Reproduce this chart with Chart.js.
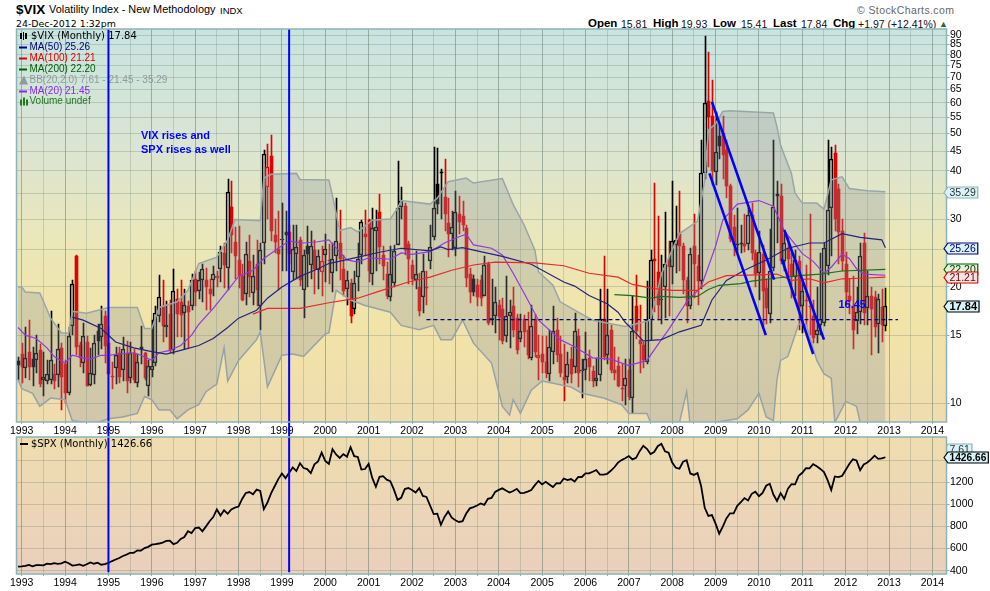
<!DOCTYPE html>
<html lang="en">

<head>
    <meta charset="UTF-8">
    <title>$VIX Volatility Index</title>
    <script src="https://cdn.jsdelivr.net/npm/chart.js"></script>
    <style>
        body {
            margin: 0;
            background: #fff;
            width: 990px;
            height: 591px;
            overflow: hidden;
            position: relative;
            font-family: "Liberation Sans", sans-serif;
            color: #000;
        }

        canvas {
            position: absolute;
            left: 0;
            top: 0;
        }

        .t {
            position: absolute;
            white-space: nowrap;
            line-height: 1;
        }

        .b {
            font-weight: bold;
            font-size: 11.5px;
            top: 18px;
        }

        .v {
            font-size: 10.5px;
            top: 19px;
            color: #111;
        }
    </style>
</head>

<body>
    <div class="t" style="left:16px;top:3px;font-size:13.5px;font-weight:bold">$VIX</div>
    <div class="t" style="left:49px;top:4px;font-size:10.9px">Volatility Index - New Methodology</div>
    <div class="t" style="left:220px;top:6px;font-size:9.5px">INDX</div>
    <div class="t" style="left:16px;top:19px;font-size:9.4px;font-family:'DejaVu Sans'">24-Dec-2012 1:32pm</div>
    <div class="t" style="left:857px;top:5px;font-size:10.5px;color:#666;letter-spacing:.4px">&copy; StockCharts.com</div>
    <div class="t b" style="left:588px">Open</div>
    <div class="t v" style="left:621px">15.81</div>
    <div class="t b" style="left:653px">High</div>
    <div class="t v" style="left:681px">19.93</div>
    <div class="t b" style="left:713px">Low</div>
    <div class="t v" style="left:741px">15.41</div>
    <div class="t b" style="left:773px">Last</div>
    <div class="t v" style="left:801px">17.84</div>
    <div class="t b" style="left:833px">Chg</div>
    <div class="t v" style="left:858px">+1.97 (+12.41%)</div>
    <div class="t" style="left:939px;top:20px;font-size:9px;color:#2a6b2a">&#9650;</div>

    <canvas id="vixChart" width="990" height="591"></canvas>
    <canvas id="spxChart" width="990" height="591"></canvas>

    <script>
        // months are counted from Jan 1993 = 0, first bar is Dec 1992
        const firstMonth = -1;
        const yearLabelStart = 1993;

        const vixOpen = [12.85,
            13.4, 12.35, 13.6, 13.0, 12.9, 13.7, 11.5, 11.4, 11.5, 11.9, 11.8, 13.9,
            12.6, 10.6, 15.8, 24, 14.1, 12.7, 14.4, 11.15, 11.85, 15.4, 14.85, 16.8,
            14.3, 11.75, 12.3, 13.5, 12.2, 13.5, 11.6, 13.5, 11.3, 14, 13.45, 11.1,
            12.2, 12.7, 16.8, 17.9, 15.7, 17, 13.7, 18.6, 18.3, 17.1, 17.9, 17.8,
            21, 19.5, 20.9, 20.8, 19.8, 20.9, 21.1, 22.2, 24.5, 22.4, 32.3, 26.2,
            23.5, 21.4, 19.2, 23.4, 19.3, 22.9, 17.9, 26, 36.4, 43.6, 27.2, 25.1,
            26.4, 27.7, 27.7, 21.9, 24.4, 26.5, 19.6, 25.5, 22.8, 24.9, 22.1, 21.9,
            24.2, 23.4, 21.7, 24, 26, 22.3, 19.8, 20.5, 17.5, 21.2, 24.2, 27.5,
            29.9, 21.6, 28, 31.2, 24.2, 21.6, 18.8, 20.5, 25.7, 32.3, 32.4, 25.8,
            22.8, 20.9, 20, 18.8, 20, 23.4, 27, 37, 39.7, 34.3, 29.3, 27.5,
            25.3, 31, 30.6, 28.4, 21.6, 21, 20.2, 20.8, 19, 23, 16.4, 16.8,
            18, 17.5, 14.9, 16.8, 17.8, 16.6, 14.7, 16.5, 15.5, 13.1, 16.5, 13.1,
            13.4, 12.8, 11.9, 13.6, 15.5, 13.4, 11.7, 11.7, 13, 12.4, 14.9, 12.1,
            12.2, 13.1, 12.1, 11.4, 11.8, 16.5, 13.3, 15.5, 12.2, 12.5, 10.95, 11.1,
            12.2, 10.3, 17.9, 14.6, 14.1, 12.8, 16.5, 23.7, 21.9, 18.5, 20, 23.5,
            22.5, 25.7, 27.5, 25.6, 20.8, 17.9, 25.5, 22.6, 20.7, 39.6, 60.7, 55.5,
            39.7, 49.3, 50, 45.4, 36.6, 28.6, 25.9, 26, 25.9, 25.9, 30.7, 24.5,
            21.7, 24.3, 19.9, 17, 22.4, 34.9, 34.4, 23.4, 25.2, 23, 21.2, 23.3,
            17.8, 18.5, 17.8, 16.8, 15, 15.9, 16.1, 22.6, 32, 44.4, 36, 27.9,
            23, 19, 17.9, 16.3, 17.2, 26, 17.6, 19, 18.8, 16, 17.7, 15.81];
        const vixHigh = [13.2,
            14.3, 15.7, 16.4, 14, 15, 14.2, 13.6, 12.9, 17.3, 12.6, 16, 14.3,
            12.9, 15.7, 20.8, 24, 14.4, 16.1, 14.9, 13.9, 15, 16, 17.8, 17.3,
            15.7, 12.8, 14, 14, 14.8, 14.5, 14.4, 13.8, 13.4, 15.8, 13.6, 12.9,
            16.4, 17.8, 21.5, 20.9, 18.4, 18.5, 22.2, 19.8, 20.9, 19.8, 18.4, 21.6,
            22, 21.9, 22.9, 22.4, 21, 22.7, 22, 25.6, 26, 38.2, 37.6, 28.6,
            28.8, 23, 26.2, 27.2, 24.2, 26.5, 26, 45.3, 47, 49.5, 30, 31.5,
            33, 31.5, 29, 29, 29, 27, 25, 28.7, 28, 26.4, 25, 25.5,
            27.5, 25.8, 26, 34, 31.6, 24.2, 22, 21, 22, 26, 29.9, 31.7,
            29.9, 32, 31.6, 34.8, 25.5, 23.2, 25.5, 25.7, 42.5, 36.4, 33, 26.3,
            23.5, 24.8, 21.8, 24.3, 22, 29, 46, 45.8, 40.5, 43, 34, 31.5,
            35.5, 34.5, 33.5, 29, 22.4, 21.5, 21, 21.5, 24, 23.2, 21, 20,
            18.5, 18.7, 21.3, 18.5, 20, 17, 17, 16.9, 17.2, 18, 17, 15,
            14.9, 14.9, 15.5, 17.8, 16.6, 14.9, 14.2, 13.6, 14, 17.1, 15.6, 13,
            15.3, 13.7, 12.5, 13.1, 19.7, 24.1, 19.8, 15.9, 14, 13.2, 12.6, 13,
            13, 19, 21.5, 18, 14.4, 20.7, 24.9, 37.3, 30.6, 24.2, 31.2, 26.3,
            37.7, 32.5, 35.5, 26, 21.2, 25.2, 31, 24.2, 48, 89.5, 81.5, 69,
            57, 53, 55.6, 48, 37, 30.7, 32, 29, 31, 32, 33, 25,
            28, 25.7, 21, 28.3, 48.2, 37.7, 37, 27.5, 27, 24.5, 25, 24,
            21, 22.8, 31, 18.5, 20, 24.5, 26, 48, 46, 46.8, 37, 30,
            24.7, 21, 21.4, 20, 26, 27.6, 22, 20, 19.5, 19.2, 19.7, 19.93];
        const vixLow = [11.5,
            11.3, 11.6, 11.5, 11.1, 12, 11, 10.4, 11.2, 11.2, 10.9, 11, 9.6,
            10, 10.5, 15, 13.3, 12.4, 12, 11.05, 11.05, 11.2, 13.3, 13.8, 12.7,
            11.9, 10.9, 11.2, 11.3, 11.4, 10.6, 11.3, 11.3, 11, 12.6, 11.5, 10.4,
            11.7, 12.5, 16.2, 14.4, 14.8, 13.5, 13.4, 14.8, 14.8, 13.8, 13.9, 17.4,
            17.8, 18.6, 18.3, 17.4, 17.4, 19, 20, 20.6, 19.9, 19.6, 24.5, 21,
            19.9, 18.4, 18, 18.8, 18, 17.8, 15.5, 23, 30, 26.3, 24.5, 19.6,
            22, 22, 23, 20.8, 21, 20.1, 16.6, 20, 21, 19.2, 19.8, 18.9,
            20.6, 20.4, 19.4, 22, 20.8, 19, 18, 16.1, 17, 19.5, 23, 24,
            20.6, 20.2, 22, 23, 20.8, 18.6, 18.4, 20, 25.7, 30, 24.2, 20.4,
            20.2, 19.8, 16.8, 17.1, 18, 22.2, 26.5, 31, 30, 28, 23.9, 25,
            24, 27.5, 28, 20, 18.2, 19, 17.8, 17.9, 19, 15.9, 15.9, 15.2,
            14.6, 14.2, 14.4, 13.9, 14.8, 13.4, 14.4, 14, 13, 12.9, 13.2, 11.5,
            12, 11.6, 11.4, 12.6, 12.8, 11.7, 10.1, 11.3, 11.3, 12, 11, 10.3,
            11.5, 11.4, 11, 11.1, 11.4, 12.9, 12.6, 12, 11.5, 11, 10.1, 9.9,
            10.2, 9.4, 14.7, 12, 12.3, 12.6, 14.6, 17.2, 16.4, 16, 16.6, 16.8,
            20.4, 21.7, 22, 19.2, 16.1, 17.5, 18.7, 18, 19.7, 38, 41, 36.7,
            36.8, 43, 38.1, 34, 26.2, 24, 24.5, 24.5, 24.7, 25, 23.5, 20,
            18.5, 15.8, 16, 16.1, 22, 26, 23, 22, 21.3, 18.7, 19, 15.5,
            15.2, 15.7, 15, 14.3, 14.3, 15, 15.8, 21.5, 24, 28, 23, 22,
            18, 17, 13.8, 15.1, 16, 15.9, 15.9, 13.3, 14.8, 13.5, 14.4, 15.41];
        const vixClose = [12.55,
            12.4, 13.1, 12.4, 12.4, 13.45, 11.2, 11.7, 11.9, 12.9, 11.4, 13.8, 11.7,
            10.6, 14.9, 20.4, 14, 13.05, 14.95, 11.1, 12, 14.3, 14.5, 16, 14.05,
            11.9, 11.7, 13.3, 11.7, 13.8, 11.4, 13.5, 11.5, 12.75, 13.8, 11.6, 12.5,
            12.5, 17.1, 18.8, 15.8, 15.9, 13.7, 19.5, 17, 16.9, 18, 17.2, 20.9,
            19.4, 20.9, 22.2, 20, 19.2, 21.6, 21.4, 24.6, 22.8, 35.3, 27.3, 24,
            21.3, 18.5, 24.3, 21.2, 21.3, 19.6, 24.9, 44.3, 41, 27.9, 26.1, 24.4,
            26.6, 27.3, 24.4, 25.1, 25.4, 20.8, 24.2, 24.4, 25.5, 22.2, 24.1, 23.3,
            25.1, 23.3, 23.7, 26.3, 23.6, 19.5, 20.8, 16.8, 20.5, 23.6, 29.5, 26.9,
            22, 28.4, 28.6, 25.4, 22.6, 18.9, 21.6, 24.8, 32, 33.4, 25, 23.7,
            21, 21.6, 17.3, 22, 19.9, 25.4, 32, 32.8, 39.6, 31, 27.4, 28.6,
            31.2, 29.5, 29, 21.1, 19.4, 19.4, 18.8, 18.7, 22.8, 16.1, 16.6, 18.3,
            16.7, 14.5, 16.8, 17.2, 15.5, 13.7, 15.4, 15.3, 13.3, 15.8, 13.6, 13.3,
            12.8, 12, 14, 15.4, 13.3, 12, 11.5, 12.6, 11.9, 15.4, 12, 12.2,
            13, 12.4, 11.4, 11.6, 16.5, 13.2, 15, 12.2, 12, 11.1, 10.9, 11.6,
            10.35, 15.4, 15.35, 14.2, 12.9, 16.4, 23.5, 23.4, 18, 18.6, 22.9, 22.5,
            26.3, 26.5, 25.6, 20.8, 17.8, 24.4, 22.9, 20.7, 39.4, 59.9, 55.2, 40,
            44.8, 46.3, 44.1, 36.5, 26.7, 25.7, 25.7, 25.9, 25.6, 30.7, 24.5, 21.6,
            24.6, 19.5, 17.6, 22.05, 32.2, 34.5, 23.4, 26, 23.7, 21.2, 23.5, 17.75,
            19.5, 18.4, 17.7, 14.75, 15.45, 16.5, 25.3, 31.6, 43, 30, 27.8, 23.4,
            19.4, 18.4, 15.5, 17.2, 24.1, 17.1, 18.9, 17.5, 15.7, 18.6, 15.9, 17.84];

        const ma20Months = [-1, 1, 4, 7, 9, 12, 14, 17, 19, 22, 24, 27, 31, 33, 36, 38, 41, 44, 47, 49, 53, 57, 60, 64, 67, 71, 74, 78, 82, 85, 90, 93, 96, 102, 105, 108, 113, 117, 121, 123, 125, 130, 133, 136, 139, 143, 149, 153, 158, 163, 168, 173, 177, 179, 184, 188, 192, 194, 198, 204, 208, 211, 216, 219, 222, 224, 227, 229, 231, 233, 239];
        const ma20Values = [15.7, 15, 14.7, 13.9, 13.2, 12.7, 13.3, 13.1, 13, 13.3, 13.3, 13.4, 13.5, 13.3, 12.9, 13.5, 13.7, 14.1, 15, 16, 17.6, 19.6, 21.3, 22.1, 23.7, 25.2, 26.3, 26, 26.2, 26.5, 23.5, 23.2, 23.8, 23.6, 24.5, 24.3, 24.7, 26, 27, 27.4, 25.7, 25.2, 24.2, 21.7, 19.3, 16.4, 14.6, 14, 13.1, 13, 12.5, 12.9, 14.6, 15.5, 18.3, 20, 25.5, 29.8, 32.8, 33.5, 32.4, 28, 24.4, 23.3, 21.7, 22.5, 24.3, 23.7, 22.3, 21.6, 21.45];

        const ma50Months = [14, 17, 22, 26, 31, 36, 40, 44, 49, 53, 57, 60, 65, 68, 72, 77, 82, 85, 94, 99, 105, 113, 116, 118, 122, 126, 133, 141, 150, 153, 157, 162, 165, 167, 169, 172, 177, 182, 188, 191, 195, 200, 206, 212, 218, 222, 227, 232, 238, 239];
        const ma50Values = [16.7, 16.4, 15.6, 14.4, 13.9, 13.6, 13.4, 13.7, 14.1, 14.7, 15.7, 16.6, 17.4, 18.7, 20, 21.3, 22.3, 23, 24, 24.6, 25.2, 24.8, 25.4, 25, 25.3, 24.8, 24, 22.9, 20.6, 20.1, 19, 18.1, 17.2, 16.2, 15.5, 14.5, 14.6, 15.3, 15.9, 18.5, 20.8, 22.1, 23.5, 25.2, 26, 26, 27.5, 26.9, 26.5, 25.26];

        const ma100Months = [64, 68, 72, 77, 85, 93, 99, 107, 113, 119, 125, 131, 142, 150, 157, 165, 169, 175, 180, 187, 190, 195, 204, 209, 213, 218, 222, 227, 234, 239];
        const ma100Values = [17, 17.6, 17.6, 17.6, 18.2, 18.7, 19.5, 20.6, 21.2, 22.1, 22.8, 23.2, 23.1, 22.7, 21.7, 21.2, 20.3, 19.8, 19.6, 19.6, 20.6, 21.4, 21.5, 21.6, 20.8, 21, 20.5, 21, 21.1, 21.21];

        const ma200Months = [164, 169, 174, 177, 182, 187, 190, 193, 199, 202, 209, 215, 221, 227, 239];
        const ma200Values = [19.1, 19, 18.7, 18.9, 18.8, 18.9, 19.7, 20.2, 20.4, 20.7, 21.1, 21.4, 21.6, 22, 22.2];

        const bbUpperMonths = [-1, 0, 1, 5, 8, 11, 13, 14, 18, 24, 32, 34, 36, 38, 43, 46, 49, 54, 57, 59, 66, 67, 69, 76, 77, 85, 86, 88, 91, 93, 97, 102, 104, 105, 113, 115, 118, 123, 125, 133, 136, 139, 142, 143, 147, 149, 154, 158, 167, 174, 177, 182, 187, 189, 190, 192, 194, 196, 208, 209, 210, 213, 214, 216, 220, 222, 224, 227, 229, 234, 239];
        const bbUpperValues = [20, 20, 19.4, 19.3, 16.6, 15.2, 15.2, 17.3, 17.1, 17.7, 17.7, 15.6, 15.6, 17.7, 18.3, 19.6, 23, 23.9, 26.5, 29.9, 29.7, 38.3, 39.2, 39.4, 38, 37.9, 34.5, 28, 28.5, 27.8, 29.8, 30, 32, 33.5, 32.8, 34, 37.5, 38.3, 37.2, 38.2, 32.7, 29, 24.9, 21.9, 20.2, 18.3, 17.2, 16.4, 15.8, 16.4, 21.6, 27.5, 29.6, 37.8, 51, 53, 57, 57.3, 56.5, 52, 46.6, 39.3, 35, 33, 33, 31.8, 37.9, 38.6, 36, 35.5, 35.29];

        const bbLowerMonths = [-1, 0, 3, 5, 8, 12, 14, 18, 21, 24, 28, 32, 34, 36, 38, 41, 43, 46, 49, 51, 54, 56, 57, 60, 65, 66, 68, 72, 75, 78, 84, 85, 87, 91, 95, 102, 105, 110, 114, 116, 119, 122, 125, 130, 133, 135, 136, 138, 141, 144, 148, 152, 155, 161, 166, 168, 173, 174, 182, 184, 185, 198, 201, 204, 206, 208, 209, 210, 212, 215, 217, 220, 222, 224, 225, 228, 231, 232, 239];
        const bbLowerValues = [11.5, 10.9, 10.6, 9.8, 10.3, 10.2, 9, 8.9, 8.9, 9.1, 9.2, 9.4, 10.4, 10.2, 9.6, 9.6, 9.1, 9.6, 9.9, 10.7, 11.2, 13.9, 11.4, 12.9, 14.6, 15.3, 11, 13.3, 13.4, 13.2, 15.1, 15.2, 19.6, 18.5, 17.9, 17.2, 15.9, 15.5, 15.9, 14.6, 14.6, 16.4, 14.3, 12.7, 9.8, 9.3, 10.2, 9.4, 10.8, 11.4, 11.2, 11, 10.6, 10.3, 9.9, 9.4, 9.4, 8.9, 8.9, 10.7, 8.7, 9.1, 9.6, 10.6, 9.2, 9, 11.5, 12.9, 13.2, 16, 16, 12.9, 11.9, 11.6, 8.9, 10.1, 9.8, 8.9, 7.61];

        const spxClose = [436,
            439, 443, 452, 440, 450, 451, 448, 464, 459, 468, 462, 466,
            482, 467, 446, 451, 457, 444, 458, 475, 463, 472, 454, 459,
            470, 487, 501, 515, 533, 545, 562, 562, 584, 582, 605, 616,
            636, 640, 646, 654, 669, 671, 640, 652, 687, 705, 757, 741,
            786, 791, 757, 801, 848, 885, 954, 899, 947, 915, 955, 970,
            980, 1049, 1102, 1112, 1091, 1134, 1121, 957, 1017, 1099, 1164, 1229,
            1280, 1238, 1286, 1335, 1302, 1373, 1329, 1320, 1283, 1363, 1389, 1469,
            1394, 1366, 1499, 1452, 1421, 1455, 1431, 1518, 1437, 1429, 1315, 1320,
            1366, 1240, 1160, 1249, 1256, 1224, 1211, 1134, 1041, 1060, 1139, 1148,
            1130, 1107, 1147, 1077, 1067, 990, 912, 916, 815, 886, 936, 880,
            856, 841, 848, 917, 964, 975, 990, 1008, 996, 1051, 1058, 1112,
            1131, 1145, 1126, 1107, 1121, 1141, 1102, 1104, 1115, 1130, 1174, 1212,
            1181, 1204, 1181, 1157, 1192, 1191, 1234, 1220, 1229, 1207, 1249, 1248,
            1280, 1281, 1295, 1311, 1270, 1270, 1277, 1304, 1336, 1378, 1401, 1418,
            1438, 1407, 1421, 1482, 1531, 1503, 1455, 1474, 1527, 1549, 1481, 1468,
            1379, 1331, 1323, 1386, 1400, 1280, 1267, 1283, 1166, 969, 896, 903,
            826, 735, 798, 873, 919, 919, 987, 1021, 1057, 1036, 1096, 1115,
            1074, 1104, 1169, 1187, 1089, 1031, 1102, 1049, 1141, 1183, 1181, 1258,
            1286, 1327, 1326, 1364, 1345, 1321, 1292, 1219, 1131, 1253, 1247, 1258,
            1312, 1366, 1408, 1398, 1310, 1362, 1379, 1407, 1441, 1412, 1416, 1426.66];

        // the four hand drawn trend lines, start and end of each
        const trendMonths = [[190.3, 205.9], [191, 208.2], [211, 222], [210.3, 219]];
        const trendValues = [[39.4, 15], [60.4, 20.9], [28.1, 14.6], [23.7, 13.4]];
        const dashedMonths = [112, 242.5];
        const dashedValue = 16.45;
        const markerMonths = [24, 74];

        const noteTexts = ["VIX rises and", "SPX rises as well", "16.45"];
        const noteMonths = [33, 33, 226];
        const noteValues = [48.5, 44.5, 17.66];

        const vixTicks = [90, 85, 80, 75, 70, 65, 60, 55, 50, 45, 40, 35, 30, 25, 20, 15, 10];
        const spxTicks = [400, 600, 800, 1000, 1200, 1400];
        const monthTicks = [];
        for (let m = 0; m <= 252; m += 6) monthTicks.push(m);

        const plotLeft = 16.5, plotRight = 946.5;
        const monthMin = -1.44, monthMax = 255.9;
        const borderColor = "#8fb3b5";

        function points(months, values) {
            return months.map((m, i) => ({ x: m, y: values[i] }));
        }

        function lineSet(data, color, width, order) {
            return {
                type: "line", data: data, borderColor: color, borderWidth: width,
                pointRadius: 0, tension: 0, fill: false, order: order
            };
        }

        const barMonths = vixClose.map((_, i) => firstMonth + i);

        function isRed(i) {
            return i > 0 && vixClose[i] < vixClose[i - 1];
        }

        // snap is the sub pixel offset used by the crispBars plugin below
        function barSet(data, thickness, color, fill, border, snap, order) {
            return {
                type: "bar", data: data, barThickness: thickness, grouped: false, order: order,
                backgroundColor: fill, borderColor: color, borderWidth: border,
                borderSkipped: false, minBarLength: 1, snap: snap
            };
        }

        const candleColors = barMonths.map((_, i) => isRed(i) ? "#e00000" : "#000");
        const upperWicks = barMonths.map((m, i) => ({ x: m, y: [Math.max(vixOpen[i], vixClose[i]), vixHigh[i]] }));
        const lowerWicks = barMonths.map((m, i) => ({ x: m, y: [vixLow[i], Math.min(vixOpen[i], vixClose[i])] }));
        const bodies = barMonths.map((m, i) => ({ x: m, y: [vixOpen[i], vixClose[i]] }));
        const hollowIdx = barMonths.map((_, i) => i).filter(i => vixClose[i] >= vixOpen[i]);
        const filledIdx = barMonths.map((_, i) => i).filter(i => vixClose[i] < vixOpen[i]);
        const last = vixClose.length - 1;

        // keep candles on whole pixels, the reference has no soft edges
        const crispBars = {
            id: "crispBars",
            afterDatasetsUpdate(chart) {
                chart.data.datasets.forEach((ds, i) => {
                    if (ds.snap === undefined) return;
                    chart.getDatasetMeta(i).data.forEach(el => {
                        el.x = Math.round(el.x) + ds.snap;
                        el.y = Math.round(el.y);
                        el.base = Math.round(el.base);
                    });
                });
            }
        };

        // x axis and grid shared by both panels
        function monthAxis() {
            return {
                type: "linear", min: monthMin, max: monthMax, offset: false,
                afterBuildTicks: s => { s.ticks = monthTicks.map(v => ({ value: v })); },
                afterFit: s => { s.height = 15; },
                grid: {
                    offset: false, drawTicks: true, tickLength: 2, tickColor: borderColor,
                    color: c => (c.tick && c.tick.value % 12 === 0) ? "rgba(95,120,105,0.5)" : "rgba(105,130,115,0.27)",
                    lineWidth: 1
                },
                border: { display: false },
                ticks: {
                    autoSkip: false, maxRotation: 0, padding: 1, color: "#000",
                    font: { family: "Liberation Sans", size: 10.5 },
                    callback: v => v % 12 === 0 ? String(yearLabelStart + v / 12) : ""
                }
            };
        }

        function valueAxis(type, min, max, list) {
            return {
                type: type, position: "right", min: min, max: max,
                afterBuildTicks: s => { s.ticks = list.map(v => ({ value: v })); },
                afterFit: s => { s.width = 990 - plotRight; },
                grid: { color: "rgba(105,130,115,0.3)", tickColor: borderColor, tickLength: 3 },
                border: { display: false },
                ticks: {
                    autoSkip: false, padding: 0.5, color: "#000",
                    font: { family: "Liberation Sans", size: 10.5 },
                    callback: v => String(v)
                }
            };
        }

        function panelPlugin(stops) {
            return {
                id: "panel",
                beforeDraw(chart) {
                    const a = chart.chartArea, ctx = chart.ctx;
                    const g = ctx.createLinearGradient(0, a.top, 0, a.bottom);
                    stops.forEach(s => g.addColorStop(s[0], s[1]));
                    ctx.save();
                    ctx.fillStyle = g;
                    ctx.fillRect(a.left, a.top, a.right - a.left, a.bottom - a.top);
                    ctx.restore();
                }
            };
        }

        function drawTag(chart, scale, tag) {
            const ctx = chart.ctx;
            const y = Math.round(scale.getPixelForValue(tag.value)) + 0.5;
            const text = tag.value.toFixed(2);
            ctx.save();
            ctx.font = tag.font + " 'Liberation Sans'";
            const right = 949.5 + ctx.measureText(text).width + 2;
            ctx.beginPath();
            ctx.moveTo(944, y);
            ctx.lineTo(948, y - 5.5);
            ctx.lineTo(right, y - 5.5);
            ctx.lineTo(right, y + 5.5);
            ctx.lineTo(948, y + 5.5);
            ctx.closePath();
            ctx.fillStyle = tag.fill;
            ctx.fill();
            ctx.strokeStyle = tag.line;
            ctx.lineWidth = 1.2;
            ctx.stroke();
            ctx.fillStyle = tag.text;
            ctx.textBaseline = "middle";
            ctx.fillText(text, 949.5, y + 0.5);
            ctx.restore();
        }

        function drawFrame(chart) {
            const a = chart.chartArea, ctx = chart.ctx;
            ctx.save();
            ctx.strokeStyle = borderColor;
            ctx.lineWidth = 1.5;
            ctx.strokeRect(a.left, a.top, a.right - a.left, a.bottom - a.top);
            ctx.restore();
        }

        const vixLegendRows = [
            { text: "MA(50) 25.26", color: "#000080", y: 47.5 },
            { text: "MA(100) 21.21", color: "#e00000", y: 58.5 },
            { text: "MA(200) 22.20", color: "#006000", y: 69.5 },
            { text: "BB(20,2.0) 7.61 - 21.45 - 35.29", color: "#8f9a9c", y: 80.5 },
            { text: "MA(20) 21.45", color: "#8a2be2", y: 91.5 },
            { text: "Volume undef", color: "#1f7a1f", y: 101.5 }
        ];

        const vixOverlay = {
            id: "vixOverlay",
            beforeDatasetsDraw(chart) {
                const ctx = chart.ctx;
                ctx.save();
                ctx.textBaseline = "middle";
                ctx.font = "10px 'DejaVu Sans'";
                ctx.fillStyle = "#000";
                ctx.fillText("$VIX (Monthly) 17.84", 31, 36.5);
                ctx.fillRect(20, 33, 2, 6);
                ctx.fillRect(23, 32, 1, 8);
                ctx.fillRect(25, 33, 2, 6);
                ctx.font = "10px 'Liberation Sans'";
                vixLegendRows.forEach((row, i) => {
                    ctx.fillStyle = row.color;
                    if (i === 3) {
                        ctx.beginPath();
                        ctx.moveTo(19, row.y + 4);
                        ctx.lineTo(24, row.y - 5);
                        ctx.lineTo(28, row.y + 4);
                        ctx.fill();
                    } else if (i === 5) {
                        ctx.fillRect(20, row.y - 2, 2, 6);
                        ctx.fillRect(23, row.y - 4, 2, 8);
                        ctx.fillRect(26, row.y - 2, 2, 6);
                    } else {
                        ctx.fillRect(19, row.y - 1, 8, 2);
                    }
                    ctx.fillText(row.text, 29.5, row.y);
                });
                ctx.restore();
            },
            afterDatasetsDraw(chart) {
                const ctx = chart.ctx, xs = chart.scales.x, ys = chart.scales.y;
                ctx.save();
                ctx.fillStyle = "#0000ff";
                ctx.font = "bold 11px 'Liberation Sans'";
                noteTexts.forEach((t, i) => {
                    ctx.fillText(t, xs.getPixelForValue(noteMonths[i]), ys.getPixelForValue(noteValues[i]));
                });
                ctx.restore();
            },
            afterDraw(chart) {
                const ys = chart.scales.y;
                drawFrame(chart);
                const tags = [
                    { value: 7.61, font: "10.5px", fill: "#d8f4f8", line: "#8fb3b5", text: "#333" },
                    { value: 35.29, font: "10.5px", fill: "#d8f4f8", line: "#8fb3b5", text: "#333" },
                    { value: 25.26, font: "10.5px", fill: "#d8f4f8", line: "#000080", text: "#000060" },
                    { value: 22.20, font: "10.5px", fill: "#dff4d8", line: "#006000", text: "#003000" },
                    { value: 21.21, font: "10.5px", fill: "#fbe4e4", line: "#e00000", text: "#600" },
                    { value: vixClose[last], font: "bold 11px", fill: "#d8f4f8", line: "#000", text: "#000" }
                ];
                tags.forEach(t => drawTag(chart, ys, t));
            }
        };

        const spxOverlay = {
            id: "spxOverlay",
            beforeDatasetsDraw(chart) {
                const ctx = chart.ctx;
                ctx.save();
                ctx.fillStyle = "#000";
                ctx.fillRect(20, 443, 8, 2);
                ctx.textBaseline = "middle";
                ctx.font = "10px 'DejaVu Sans'";
                ctx.fillText("$SPX (Monthly) 1426.66", 31, 444.5);
                ctx.restore();
            },
            afterDraw(chart) {
                drawFrame(chart);
                drawTag(chart, chart.scales.y, { value: spxClose[last], font: "bold 10.2px", fill: "#d8f4f8", line: "#000", text: "#000" });
            }
        };

        const vixSets = [
            barSet([{ x: barMonths[last], y: [vixLow[last], vixHigh[last]] }], 5, "#f4f45a", "#f4f45a", 0, 0.5, 8),
            barSet(upperWicks, 1, "rgba(0,0,0,0)", candleColors, 0, 0.5, 7),
            barSet(lowerWicks, 1, "rgba(0,0,0,0)", candleColors, 0, 0.5, 7),
            barSet(hollowIdx.map(i => bodies[i]), 4, hollowIdx.map(i => candleColors[i]), "rgba(0,0,0,0)", 1, 0, 6),
            barSet(filledIdx.map(i => bodies[i]), 3, "rgba(0,0,0,0)", filledIdx.map(i => candleColors[i]), 0, 0.5, 6),
            Object.assign(lineSet(points(bbUpperMonths, bbUpperValues), "#99a6a9", 1.5, 5), { fill: { target: "+1" }, backgroundColor: "rgba(140,150,160,0.3)" }),
            lineSet(points(bbLowerMonths, bbLowerValues), "#99a6a9", 1.5, 5),
            lineSet(points(ma200Months, ma200Values), "#1d6e1d", 1.2, 4),
            lineSet(points(ma100Months, ma100Values), "#e8282c", 1.2, 4),
            lineSet(points(ma50Months, ma50Values), "#23237f", 1.2, 4),
            lineSet(points(ma20Months, ma20Values), "#9338dc", 1.2, 4),
            Object.assign(lineSet([{ x: dashedMonths[0], y: dashedValue }, { x: dashedMonths[1], y: dashedValue }], "#00008b", 1.2, 3), { borderDash: [4, 3] })
        ];
        trendMonths.forEach((months, i) => {
            vixSets.push(lineSet(points(months, trendValues[i]), "#0000ff", 2.6, 2));
        });
        markerMonths.forEach(m => {
            // runs past the axis so it reaches the lower panel
            vixSets.push(Object.assign(lineSet([{ x: m, y: 93.3 }, { x: m, y: 7.9 }], "#0000ff", 2, 1), { clip: false }));
        });

        new Chart(document.getElementById("vixChart").getContext("2d"), {
            type: "bar",
            data: { datasets: vixSets },
            options: {
                responsive: false, animation: false, devicePixelRatio: 1,
                layout: { autoPadding: false, padding: { left: plotLeft, right: 0, top: 29, bottom: 154 } },
                plugins: { legend: { display: false }, tooltip: { enabled: false } },
                scales: { x: monthAxis(), y: valueAxis("logarithmic", 8.93, 93.3, vixTicks) }
            },
            plugins: [crispBars, panelPlugin([[0, "#c8e4e0"], [0.3, "#dbe5d2"], [0.55, "#ebe7b8"], [0.75, "#f2e4a8"], [1, "#efdcb0"]]), vixOverlay]
        });

        const spxSets = [
            lineSet(points(barMonths, spxClose), "#000", 1.8, 2)
        ];
        markerMonths.forEach(m => {
            spxSets.push(lineSet([{ x: m, y: 1610 }, { x: m, y: 385 }], "#0000ff", 2, 1));
        });

        new Chart(document.getElementById("spxChart").getContext("2d"), {
            type: "line",
            data: { datasets: spxSets },
            options: {
                responsive: false, animation: false, devicePixelRatio: 1,
                layout: { autoPadding: false, padding: { left: plotLeft, right: 0, top: 437, bottom: 2 } },
                plugins: { legend: { display: false }, tooltip: { enabled: false } },
                scales: { x: monthAxis(), y: valueAxis("linear", 370, 1610, spxTicks) }
            },
            plugins: [panelPlugin([[0, "#efddaf"], [1, "#e9cfbd"]]), spxOverlay]
        });
    </script>
</body>

</html>
